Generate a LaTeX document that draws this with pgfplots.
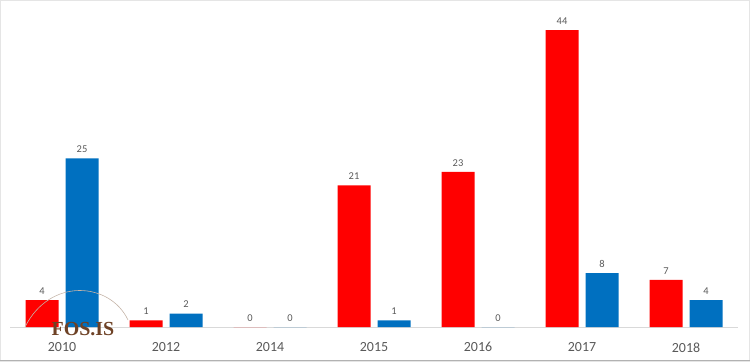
\documentclass[border=0pt]{standalone}
\usepackage{pgfplots}
\pgfplotsset{compat=1.18}
\usepackage{fontspec}
\setmainfont{Carlito}
\newfontfamily\logofont{Liberation Serif}
\definecolor{barred}{RGB}{255,0,0}
\definecolor{barblue}{RGB}{0,112,192}
\definecolor{lbl}{RGB}{89,89,89}
\definecolor{logo}{RGB}{110,66,38}
\begin{document}
\begin{tikzpicture}[x=1bp,y=1bp]
\useasboundingbox (0,0) rectangle (750,362);
\draw[gray!20] (0.5,0.5) rectangle (749.5,361.5);
\draw[gray!60,line width=1bp] (0,1.5) -- (750,1.5);
\begin{axis}[
  at={(10bp,35bp)}, anchor=south west,
  scale only axis, width=728bp, height=324bp,
  xmin=-0.5, xmax=6.5, ymin=0, ymax=48,
  axis y line=none, axis x line=bottom,
  x axis line style={-, draw=gray!30},
  xtick={0,...,6},
  xticklabels={2010,2012,2014,2015,2016,2017,2018},
  major tick length=0pt,
  xticklabel style={font=\fontsize{14}{14}\selectfont, text=lbl, yshift=-12bp},
  ybar=7bp, bar width=33bp,
  clip=false,
  /pgf/number format/assume math mode=true,
  nodes near coords,
  every node near coord/.append style={font=\fontsize{10.5}{10.5}\selectfont, text=lbl, yshift=2bp},
]
\addplot[fill=barred, draw=none] coordinates {(0,4) (1,1) (2,0) (3,21) (4,23) (5,44) (6,7)};
\addplot[fill=barblue, draw=none] coordinates {(0,25) (1,2) (2,0) (3,1) (4,0) (5,8) (6,4)};
\end{axis}
\draw[logo!40, line width=0.6bp] (25,35) .. controls (50,85) and (110,80) .. (128,42);
\node[text=logo, font=\logofont\bfseries\fontsize{20}{20}\selectfont] at (83,33) {FOS.IS};
\end{tikzpicture}
\end{document}
